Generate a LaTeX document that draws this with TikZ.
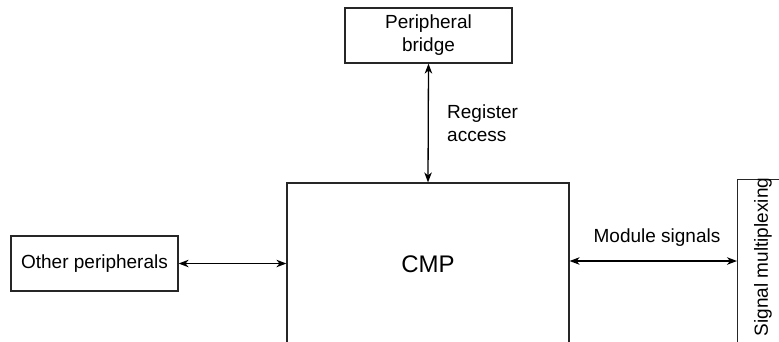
\documentclass[tikz,border=0pt]{standalone}
\usepackage{fontspec}
\setmainfont{Liberation Sans}
\usetikzlibrary{arrows.meta}
\begin{document}
\begin{tikzpicture}[x=1pt,y=-1pt,
  box/.style={draw=black!85, line width=1.2pt, inner sep=0pt, font=\fontsize{19}{23}\selectfont, align=center},
  lbl/.style={inner sep=0pt, font=\fontsize{19}{23}\selectfont},
  conn/.style={line width=1.3pt, {Stealth[length=10pt,width=7.5pt,inset=3pt]}-{Stealth[length=10pt,width=7.5pt,inset=3pt]}}]
\useasboundingbox (0,0) rectangle (779,341);
\clip (0,0) rectangle (779,341);
\node[box, minimum width=167pt, minimum height=55pt] (bridge) at (428.5,35.5) {Peripheral\\bridge};
\node[box, minimum width=282pt, minimum height=162pt, font=\fontsize{24}{28}\selectfont] (cmp) at (428,264) {CMP};
\node[box, minimum width=167pt, minimum height=55pt] (other) at (94.5,263.5) {Other peripherals};
\node[box, anchor=north west, minimum width=60pt, minimum height=200pt] (mux) at (737,179) {};
\node[lbl, rotate=90] (muxtext) at (763,257) {Signal multiplexing};
\draw[conn] (bridge.south) -- (cmp.north);
\draw[conn] (other.east) -- (cmp.west |- other.east);
\coordinate (rs) at (0,261);
\draw[conn] (cmp.east |- rs) -- (mux.west |- rs);
\node[lbl, anchor=west, align=left] (reg) at (447,123) {Register\\access};
\node[lbl] (mod) at (657,238) {Module signals};
\end{tikzpicture}
\end{document}
